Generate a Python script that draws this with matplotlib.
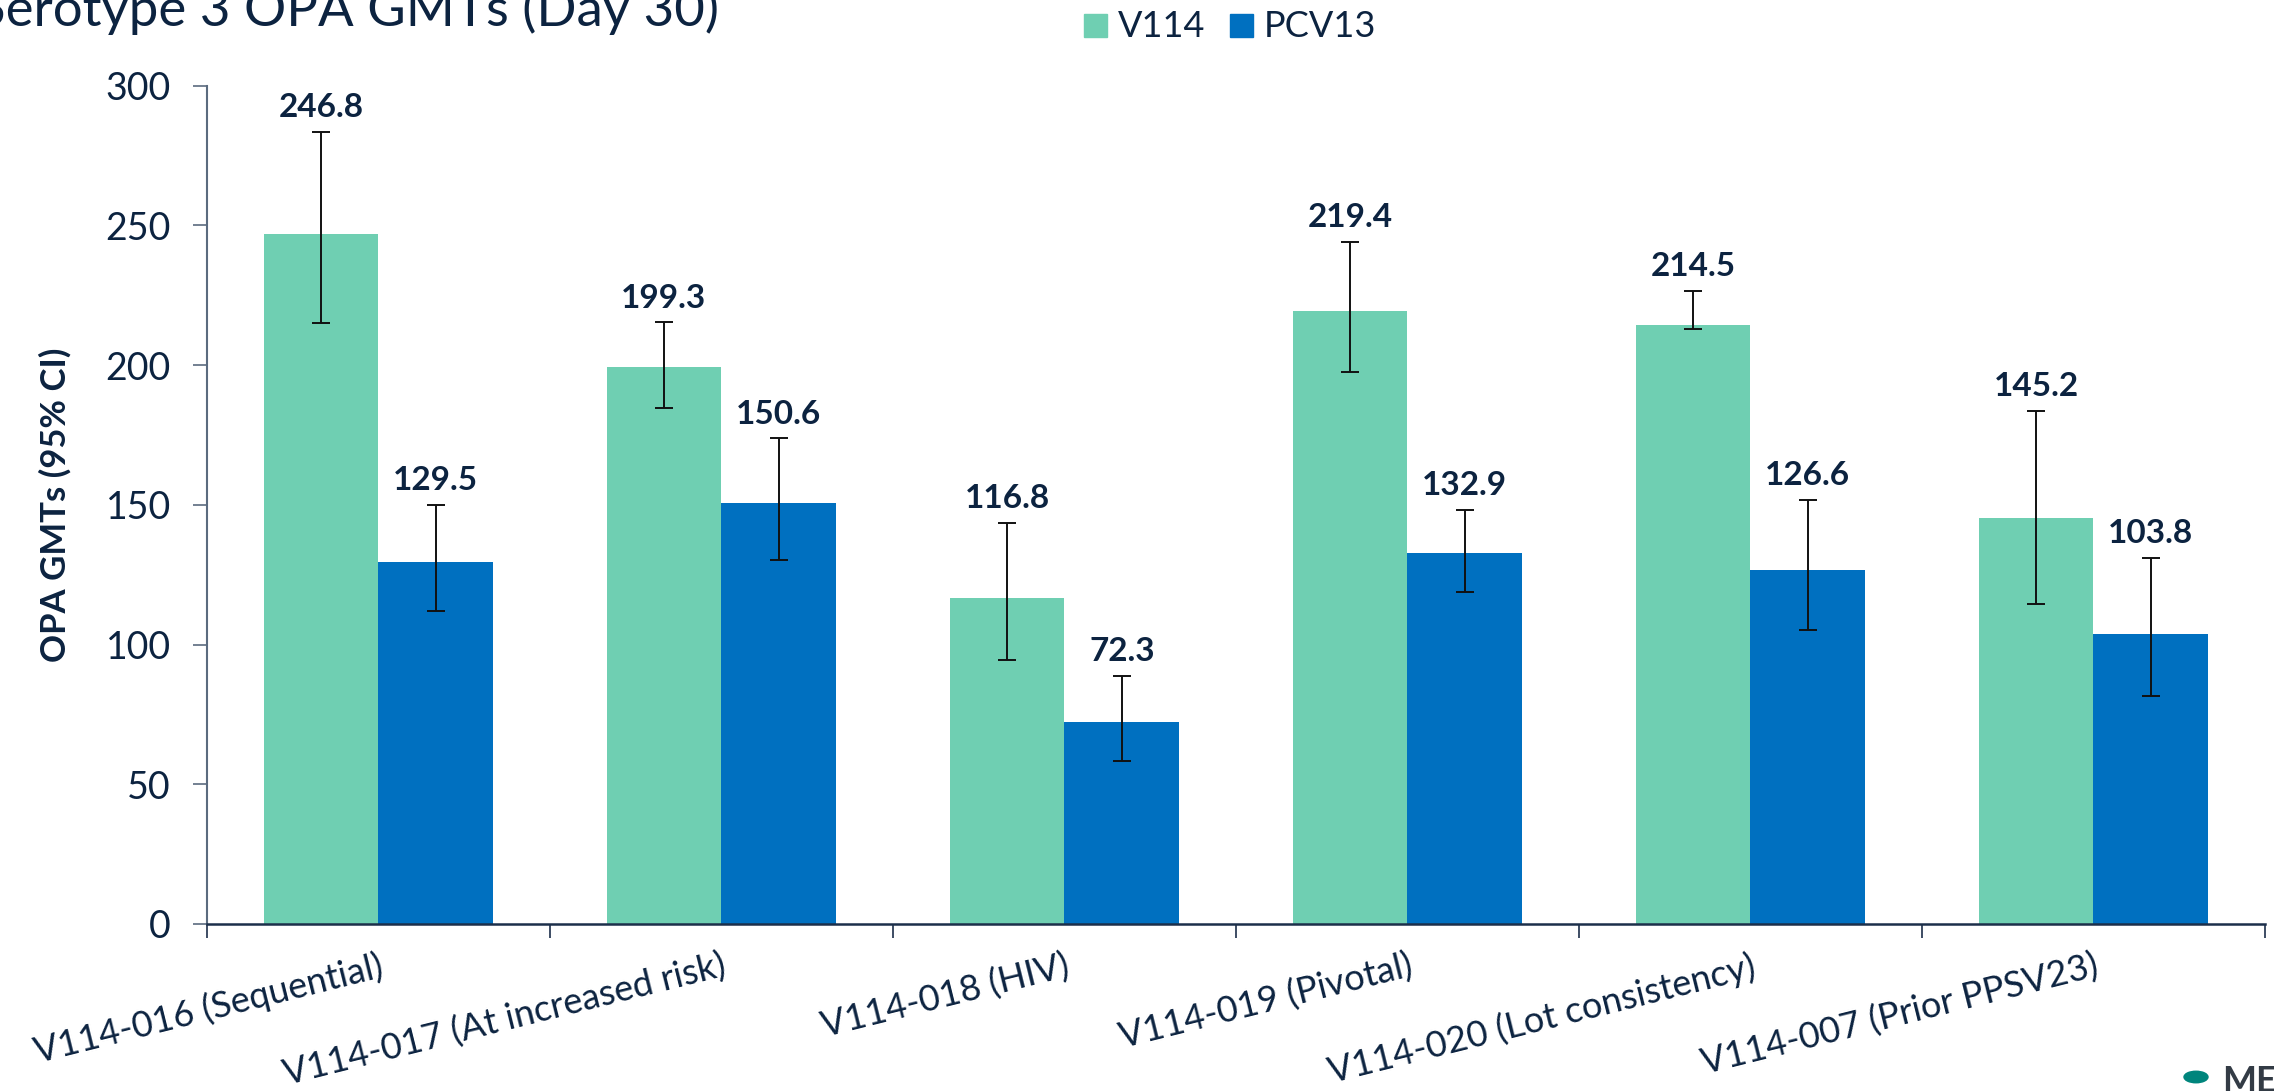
import numpy as np
import matplotlib.pyplot as plt
from matplotlib.patches import Rectangle, Circle

# ==========================
# Data
# ==========================

studies = [
    'V114-016 (Sequential)',
    'V114-017 (At increased risk)',
    'V114-018 (HIV)',
    'V114-019 (Pivotal)',
    'V114-020 (Lot consistency)',
    'V114-007 (Prior PPSV23)'
]

v114 = [246.8, 199.3, 116.8, 219.4, 214.5, 145.2]
v114_lo = [215.0, 184.5, 94.6, 197.4, 213.0, 114.5]
v114_hi = [283.4, 215.3, 143.5, 244.0, 226.6, 183.5]

pcv13 = [129.5, 150.6, 72.3, 132.9, 126.6, 103.8]
pcv13_lo = [112.1, 130.4, 58.2, 118.7, 105.1, 81.5]
pcv13_hi = [150.0, 173.8, 88.8, 148.1, 151.8, 131.1]

series_names = ['V114', 'PCV13']

# ==========================
# Style
# ==========================

navy = '#0c2340'
green = '#6fcfb2'
blue = '#0070c0'

plt.rcParams['font.family'] = ['Lato', 'DejaVu Sans']

fig = plt.figure(figsize=(22.74, 10.91), dpi=100)
ax = fig.add_axes([0.0910, 0.1531, 0.9050, 0.7684])

x = np.arange(len(studies)) + 0.5
w = 0.335

ax.bar(x - w / 2, v114, width=w, color=green, zorder=2)
ax.bar(x + w / 2, pcv13, width=w, color=blue, zorder=2)

for xs, vals, lo, hi in [
    (x - w / 2, v114, v114_lo, v114_hi),
    (x + w / 2, pcv13, pcv13_lo, pcv13_hi),
]:
    vals = np.array(vals)
    err = [vals - np.array(lo), np.array(hi) - vals]
    ax.errorbar(xs, vals, yerr=err, fmt='none', ecolor='#111111',
                elinewidth=1.4, capsize=6.5, capthick=1.4, zorder=3)
    for xi, v, h in zip(xs, vals, hi):
        ax.annotate(f'{v:.1f}', (xi, h), xytext=(0, 7),
                    textcoords='offset points', ha='center', va='bottom',
                    fontsize=24, fontweight='bold', color=navy)

# Axes
ax.set_xlim(0, 6)
ax.set_ylim(0, 300)
ax.set_yticks(np.arange(0, 301, 50))
ax.tick_params(axis='y', length=10, width=1.2, color='#5b6b7f',
               labelsize=27, labelcolor=navy, pad=16)

ax.set_xticks(np.arange(0, 7))
ax.set_xticklabels([])
ax.set_xticks(x, minor=True)
ax.set_xticklabels(studies, minor=True, rotation=14, ha='right',
                   rotation_mode='anchor', fontsize=26, color=navy)
ax.tick_params(axis='x', which='major', length=10, width=1.2,
               color='#1c2f4a')
ax.tick_params(axis='x', which='minor', length=0, pad=18)

for side in ['top', 'right']:
    ax.spines[side].set_visible(False)
ax.spines['left'].set_color('#5b6b7f')
ax.spines['left'].set_linewidth(1.5)
ax.spines['bottom'].set_color('#1c2f4a')
ax.spines['bottom'].set_linewidth(1.8)

ax.set_ylabel('OPA GMTs (95% CI)', fontsize=25, fontweight='bold',
              color=navy)
ax.yaxis.set_label_coords(-0.066, 0.5)

# Title (cut off at the left edge as in the slide)
fig.text(-0.010, 0.976, 'Serotype 3 OPA GMTs (Day 30)', fontsize=38,
         color=navy, ha='left', va='baseline')

# Legend
for xl, name, col in [(1084, series_names[0], green),
                      (1230, series_names[1], blue)]:
    fig.patches.append(Rectangle((xl / 2274, 1 - 37 / 1091), 23 / 2274,
                                 23 / 1091, transform=fig.transFigure,
                                 color=col))
    fig.text((xl + 34) / 2274, 1 - 37 / 1091, name, fontsize=26,
             color=navy, ha='left', va='baseline')

# Logo fragment bottom right
fig.text(2222 / 2274, -0.006, 'MERCK', fontsize=26, fontweight='bold',
         color='#333b45', ha='left', va='bottom')
fig.patches.append(Circle((2196 / 2274, 14 / 1091), 12 / 2274,
                          transform=fig.transFigure, color='#00857c'))

fig.savefig('out.png', dpi=100, facecolor='white')
